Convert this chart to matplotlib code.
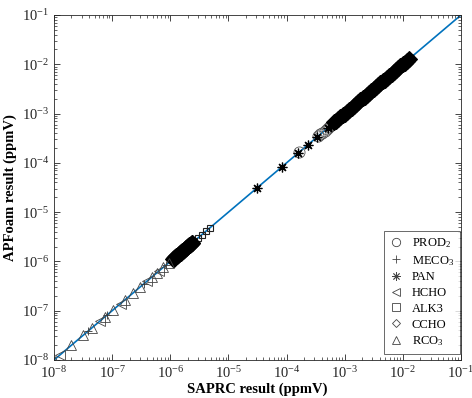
import matplotlib
matplotlib.use("Agg")
import matplotlib.pyplot as plt
import numpy as np

plt.rcParams['font.family'] = ['Liberation Serif', 'DejaVu Serif']
plt.rcParams['mathtext.fontset'] = 'custom'
plt.rcParams['mathtext.rm'] = 'Liberation Serif'
plt.rcParams['mathtext.default'] = 'regular'

# ---- data (ppmV), SAPRC vs APFoam ----
rco3_saprc = [1.0e-8, 2.0e-8, 3.2e-8, 4.5e-8, 7.6e-8, 1.05e-7, 1.65e-7, 2.3e-7, 3.0e-7, 4.9e-7, 5.9e-7, 7.6e-7, 9.5e-7]
rco3_apfoam = [1.0e-8, 2.0e-8, 3.2e-8, 4.5e-8, 7.6e-8, 1.05e-7, 1.65e-7, 2.3e-7, 3.0e-7, 4.9e-7, 5.9e-7, 7.6e-7, 9.5e-7]
hcho_saprc = [1.25e-8, 6.2e-8, 1.4e-7, 4.0e-7, 6.5e-7]
hcho_apfoam = [1.25e-8, 6.2e-8, 1.4e-7, 4.0e-7, 6.5e-7]
meco3_saprc = [3.8e-8, 8.0e-8, 3.5e-7, 8.5e-7]
meco3_apfoam = [3.8e-8, 8.0e-8, 3.5e-7, 8.5e-7]
ccho_saprc = [1.1e-6, 1.14e-6, 1.18e-6, 1.22e-6, 1.26e-6, 1.3e-6, 1.35e-6, 1.4e-6, 1.45e-6, 1.5e-6,
              1.55e-6, 1.6e-6, 1.66e-6, 1.72e-6, 1.78e-6, 1.84e-6, 1.9e-6, 1.97e-6, 2.04e-6, 2.11e-6,
              2.18e-6, 2.25e-6, 2.33e-6, 2.4e-6,
              6.6e-4, 7.1e-4, 7.7e-4, 8.4e-4, 9.2e-4, 1.0e-3, 1.1e-3, 1.2e-3, 1.31e-3, 1.43e-3,
              1.56e-3, 1.7e-3, 1.86e-3, 2.03e-3, 2.21e-3, 2.4e-3, 2.62e-3, 2.87e-3, 3.15e-3, 3.45e-3,
              3.75e-3, 4.1e-3, 4.5e-3, 4.9e-3, 5.35e-3, 5.85e-3, 6.4e-3, 7.0e-3, 7.65e-3, 8.35e-3,
              9.1e-3, 9.95e-3, 1.08e-2, 1.18e-2, 1.28e-2]
ccho_apfoam = [1.1e-6, 1.14e-6, 1.18e-6, 1.22e-6, 1.26e-6, 1.3e-6, 1.35e-6, 1.4e-6, 1.45e-6, 1.5e-6,
               1.55e-6, 1.6e-6, 1.66e-6, 1.72e-6, 1.78e-6, 1.84e-6, 1.9e-6, 1.97e-6, 2.04e-6, 2.11e-6,
               2.18e-6, 2.25e-6, 2.33e-6, 2.4e-6,
               6.6e-4, 7.1e-4, 7.7e-4, 8.4e-4, 9.2e-4, 1.0e-3, 1.1e-3, 1.2e-3, 1.31e-3, 1.43e-3,
               1.56e-3, 1.7e-3, 1.86e-3, 2.03e-3, 2.21e-3, 2.4e-3, 2.62e-3, 2.87e-3, 3.15e-3, 3.45e-3,
               3.75e-3, 4.1e-3, 4.5e-3, 4.9e-3, 5.35e-3, 5.85e-3, 6.4e-3, 7.0e-3, 7.65e-3, 8.35e-3,
               9.1e-3, 9.95e-3, 1.08e-2, 1.18e-2, 1.28e-2]
alk3_saprc = [1.15e-6, 1.3e-6, 1.5e-6, 1.7e-6, 1.95e-6, 2.2e-6, 2.6e-6, 3.0e-6, 3.5e-6, 4.1e-6, 4.8e-6]
alk3_apfoam = [1.15e-6, 1.3e-6, 1.5e-6, 1.7e-6, 1.95e-6, 2.2e-6, 2.6e-6, 3.0e-6, 3.5e-6, 4.1e-6, 4.8e-6]
prod2_saprc = [1.65e-4, 3.5e-4, 3.8e-4, 4.1e-4, 4.5e-4, 4.9e-4, 5.4e-4, 5.9e-4, 6.5e-4]
prod2_apfoam = [1.65e-4, 3.5e-4, 3.8e-4, 4.1e-4, 4.5e-4, 4.9e-4, 5.4e-4, 5.9e-4, 6.5e-4]
pan_saprc = [3.1e-5, 8.3e-5, 1.55e-4, 2.3e-4, 3.4e-4,
             5.2e-4, 5.7e-4, 6.2e-4, 6.8e-4, 7.4e-4, 8.1e-4, 8.8e-4, 9.6e-4,
             1.05e-3, 1.15e-3, 1.25e-3, 1.37e-3, 1.5e-3, 1.63e-3, 1.78e-3, 1.95e-3,
             2.12e-3, 2.3e-3, 2.5e-3, 2.75e-3, 3.0e-3, 3.3e-3, 3.6e-3, 3.9e-3,
             4.3e-3, 4.7e-3, 5.1e-3, 5.6e-3, 6.1e-3, 6.7e-3, 7.3e-3, 8.0e-3,
             8.7e-3, 9.5e-3, 1.04e-2, 1.13e-2, 1.23e-2, 1.33e-2]
pan_apfoam = [3.1e-5, 8.3e-5, 1.55e-4, 2.3e-4, 3.4e-4,
              5.2e-4, 5.7e-4, 6.2e-4, 6.8e-4, 7.4e-4, 8.1e-4, 8.8e-4, 9.6e-4,
              1.05e-3, 1.15e-3, 1.25e-3, 1.37e-3, 1.5e-3, 1.63e-3, 1.78e-3, 1.95e-3,
              2.12e-3, 2.3e-3, 2.5e-3, 2.75e-3, 3.0e-3, 3.3e-3, 3.6e-3, 3.9e-3,
              4.3e-3, 4.7e-3, 5.1e-3, 5.6e-3, 6.1e-3, 6.7e-3, 7.3e-3, 8.0e-3,
              8.7e-3, 9.5e-3, 1.04e-2, 1.13e-2, 1.23e-2, 1.33e-2]
one_to_one = [1e-8, 1e-1]

fig = plt.figure(figsize=(4.72, 3.98), dpi=100)
ax = fig.add_axes([0.1144, 0.0955, 0.8623, 0.8668])

ax.plot(one_to_one, one_to_one, color='#0072BD', lw=1.2, zorder=1)

asterisk = (8, 2, 0)
ax.plot(prod2_saprc, prod2_apfoam, 'o', ms=8, mfc='none', mec='#555555', mew=0.6, ls='none', label='PROD$_2$', zorder=3)
ax.plot(meco3_saprc, meco3_apfoam, '+', ms=6, mec='#333333', mew=0.6, ls='none', label='MECO$_3$', zorder=3)
ax.plot(pan_saprc, pan_apfoam, marker=asterisk, ms=7, mfc='none', mec='black', mew=0.9, ls='none', label='PAN', zorder=3)
ax.plot(hcho_saprc, hcho_apfoam, '<', ms=6.5, mfc='none', mec='#444444', mew=0.6, ls='none', label='HCHO', zorder=3)
ax.plot(alk3_saprc, alk3_apfoam, 's', ms=5, mfc='none', mec='#222222', mew=0.8, ls='none', label='ALK3', zorder=3)
ax.plot(ccho_saprc, ccho_apfoam, 'D', ms=8, mfc='black', mec='black', mew=0.8, ls='none', label='CCHO', zorder=3)
ax.plot(rco3_saprc, rco3_apfoam, '^', ms=6.5, mfc='none', mec='#444444', mew=0.6, ls='none', label='RCO$_3$', zorder=3)

ax.set_xscale('log')
ax.set_yscale('log')
ax.set_xlim(1e-8, 1e-1)
ax.set_ylim(1e-8, 1e-1)
ax.tick_params(which='both', direction='in', top=True, right=True, labelsize=10.5, colors='#262626')
ax.tick_params(which='major', length=4, width=0.6)
ax.tick_params(which='minor', length=2, width=0.5)
for s in ax.spines.values():
    s.set_color('#262626')
    s.set_linewidth(0.6)

ax.set_xlabel('SAPRC result (ppmV)', fontsize=10.5, fontweight='bold', labelpad=1)
ax.set_ylabel('APFoam result (ppmV)', fontsize=10.5, fontweight='bold', labelpad=3)

leg = ax.legend(loc='lower right', bbox_to_anchor=(0.997, 0.018), fontsize=9, frameon=True,
                fancybox=False, edgecolor='#262626',
                handlelength=1.1, handletextpad=0.7, borderpad=0.45, labelspacing=0.3,
                borderaxespad=0.0)
leg.get_frame().set_linewidth(0.6)
for h in leg.legend_handles:
    h.set_markerfacecolor('none')
    h.set_markeredgecolor('#444444')
    h.set_markeredgewidth(0.6)
    h.set_markersize(4.5 if h.get_marker() == 'D' else 6)

fig.savefig('out.png', dpi=100)
